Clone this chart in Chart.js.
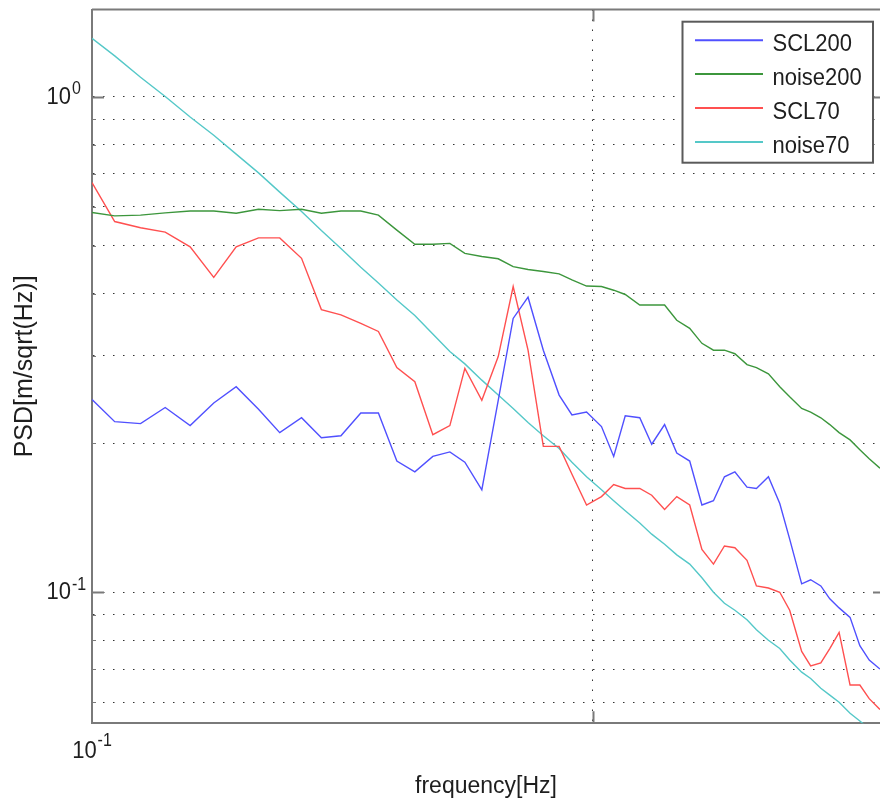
<!DOCTYPE html>
<html>
<head>
<meta charset="utf-8">
<title>PSD</title>
<script src="https://cdn.jsdelivr.net/npm/chart.js@4.4.1/dist/chart.umd.min.js"></script>
<style>
  html, body { margin: 0; padding: 0; background: #fff; }
  #wrap { width: 880px; height: 803px; }
</style>
</head>
<body>
<div id="wrap"><canvas id="psd" width="880" height="803"></canvas></div>
<script>
/* PSD plot — SCL200 / SCL70 against their noise floors, log-log, MATLAB look */

/* ── data ─────────────────────────────────────────────────────── */

const FREQ = [
  0.100, 0.111, 0.125, 0.140, 0.157, 0.175, 0.194, 0.215, 0.237, 0.262,
  0.287, 0.314, 0.344, 0.373, 0.406, 0.441, 0.479, 0.518, 0.555, 0.600,
  0.647, 0.693, 0.742, 0.796, 0.856, 0.908, 0.971, 1.04, 1.10, 1.16,
  1.24, 1.31, 1.39, 1.47, 1.56, 1.65, 1.74, 1.83, 1.92, 2.03,
  2.12, 2.24, 2.36, 2.47, 2.61, 2.72, 2.85, 2.97, 3.10, 3.26,
  3.41, 3.56, 3.74
];

const SCL200 = [
  0.245, 0.221, 0.219, 0.236, 0.217, 0.241, 0.260, 0.234, 0.210, 0.225,
  0.205, 0.207, 0.230, 0.230, 0.184, 0.175, 0.188, 0.192, 0.183, 0.161,
  0.244, 0.357, 0.394, 0.308, 0.250, 0.228, 0.231, 0.216, 0.188, 0.227,
  0.225, 0.199, 0.218, 0.191, 0.184, 0.150, 0.153, 0.171, 0.175, 0.163,
  0.162, 0.171, 0.151, 0.128, 0.104, 0.106, 0.103, 0.097, 0.093, 0.089,
  0.078, 0.073, 0.070
];

const NOISE200 = [
  0.584, 0.575, 0.577, 0.583, 0.588, 0.588, 0.582, 0.593, 0.589, 0.593,
  0.582, 0.588, 0.588, 0.577, 0.538, 0.504, 0.504, 0.506, 0.483, 0.476,
  0.471, 0.454, 0.448, 0.444, 0.439, 0.427, 0.415, 0.414, 0.407, 0.399,
  0.380, 0.380, 0.380, 0.354, 0.341, 0.318, 0.308, 0.308, 0.303, 0.288,
  0.284, 0.276, 0.260, 0.248, 0.235, 0.231, 0.225, 0.218, 0.210, 0.203,
  0.194, 0.186, 0.178
];

const SCL70 = [
  0.671, 0.560, 0.544, 0.533, 0.498, 0.432, 0.498, 0.519, 0.519, 0.472,
  0.372, 0.363, 0.349, 0.336, 0.284, 0.266, 0.208, 0.217, 0.283, 0.244,
  0.299, 0.414, 0.308, 0.197, 0.197, 0.173, 0.150, 0.156, 0.165, 0.162,
  0.162, 0.157, 0.147, 0.156, 0.150, 0.122, 0.114, 0.124, 0.123, 0.116,
  0.103, 0.102, 0.100, 0.092, 0.076, 0.071, 0.072, 0.077, 0.083, 0.065,
  0.065, 0.061, 0.058
];

const NOISE70 = [
  1.312, 1.209, 1.095, 1.001, 0.910, 0.836, 0.766, 0.702, 0.642, 0.587,
  0.537, 0.494, 0.453, 0.421, 0.389, 0.362, 0.332, 0.306, 0.289, 0.268,
  0.250, 0.235, 0.220, 0.207, 0.195, 0.183, 0.171, 0.161, 0.153, 0.146,
  0.138, 0.131, 0.125, 0.119, 0.114, 0.107, 0.100, 0.095, 0.092, 0.088,
  0.084, 0.080, 0.077, 0.073, 0.069, 0.067, 0.064, 0.062, 0.060, 0.057,
  0.055, 0.053, 0.050
];

const SERIES_LABELS = ['SCL200', 'noise200', 'SCL70', 'noise70'];

const X_TICKS = [0.1, 1];
const Y_TICKS = [0.06, 0.07, 0.08, 0.09, 0.1, 0.2, 0.3, 0.4, 0.5, 0.6, 0.7, 0.8, 0.9, 1];
const X_EXPONENTS = { '0.1': '-1' };
const Y_EXPONENTS = { '0.1': '-1', '1': '0' };

/* ── styling ──────────────────────────────────────────────────── */

const FONT = "'Liberation Sans', Arial, sans-serif";
const AXIS_GREY = '#7a7a7a';
const TEXT = '#1e1e1e';
const COLORS = ['#5050ff', '#3c963c', '#ff5050', '#55c8c8'];
const TEXT_STRETCH = 1.12; // the figure's text is a bit taller than wide

function isMajor(v) {
  return Math.abs(Math.log10(v) - Math.round(Math.log10(v))) < 1e-6;
}

function tallText(ctx, str, x, y) {
  ctx.save();
  ctx.translate(x, y);
  ctx.scale(1, TEXT_STRETCH);
  ctx.fillText(str, 0, 0);
  ctx.restore();
}

/* draws "10" with a raised exponent; anchor 'right' puts the base's right edge at x */
function drawPow(ctx, exp, x, y, anchor) {
  ctx.font = '22px ' + FONT;
  const bw = ctx.measureText('10').width;
  ctx.font = '16px ' + FONT;
  const ew = ctx.measureText(exp).width;
  const bx = anchor === 'right' ? x - bw : x - (bw + ew + 1) / 2;
  ctx.fillStyle = TEXT;
  ctx.textAlign = 'left';
  ctx.textBaseline = 'middle';
  ctx.font = '22px ' + FONT;
  tallText(ctx, '10', bx, y);
  ctx.font = '16px ' + FONT;
  tallText(ctx, exp, bx + bw + 1, y - (anchor === 'right' ? 7.5 : 10.5));
}

/* ── frame, inner ticks, tick labels and boxed legend ─────────── */

const matlabFrame = {
  id: 'matlabFrame',
  afterDraw(chart) {
    const { ctx, chartArea: a, scales: { x, y } } = chart;
    ctx.save();

    // top edge of the box
    ctx.strokeStyle = AXIS_GREY;
    ctx.lineWidth = 2;
    ctx.beginPath();
    ctx.moveTo(a.left, a.top);
    ctx.lineTo(a.right, a.top);
    ctx.stroke();

    // inward ticks on the left axis (right axis sits just past the edge)
    Y_TICKS.forEach(v => {
      const py = Math.round(y.getPixelForValue(v)) + 0.5;
      const major = isMajor(v);
      ctx.lineWidth = major ? 2 : 1;
      ctx.beginPath();
      ctx.moveTo(a.left, py);
      ctx.lineTo(a.left + (major ? 12 : 4), py);
      if (major) {
        ctx.moveTo(a.right, py);
        ctx.lineTo(a.right - 7, py);
      }
      ctx.stroke();
    });

    // inward ticks top/bottom at x = 1
    const px1 = Math.round(x.getPixelForValue(1)) + 0.5;
    ctx.lineWidth = 2;
    ctx.beginPath();
    ctx.moveTo(px1, a.bottom); ctx.lineTo(px1, a.bottom - 12);
    ctx.moveTo(px1, a.top); ctx.lineTo(px1, a.top + 12);
    ctx.stroke();

    // tick labels 10^n
    Object.keys(Y_EXPONENTS).forEach(k => {
      drawPow(ctx, Y_EXPONENTS[k], a.left - 21, y.getPixelForValue(+k), 'right');
    });
    Object.keys(X_EXPONENTS).forEach(k => {
      drawPow(ctx, X_EXPONENTS[k], x.getPixelForValue(+k), a.bottom + 28, 'center');
    });

    // legend box, upper right
    const bx = a.right - 197.5, by = a.top + 12.2, bw = 190.5, bh = 141;
    ctx.fillStyle = '#fff';
    ctx.fillRect(bx, by, bw, bh);
    ctx.strokeStyle = '#5a5a5a';
    ctx.lineWidth = 2;
    ctx.strokeRect(bx, by, bw, bh);

    chart.data.datasets.forEach((ds, i) => {
      const ry = by + 18.5 + i * 33.9;
      ctx.strokeStyle = ds.borderColor;
      ctx.lineWidth = 2;
      ctx.beginPath();
      ctx.moveTo(bx + 12.5, ry);
      ctx.lineTo(bx + 80.5, ry);
      ctx.stroke();
      ctx.fillStyle = TEXT;
      ctx.font = '22px ' + FONT;
      ctx.textAlign = 'left';
      ctx.textBaseline = 'middle';
      tallText(ctx, ds.label, bx + 90, ry + 4);
    });

    ctx.restore();
  }
};

/* ── chart ────────────────────────────────────────────────────── */

const seriesValues = [SCL200, NOISE200, SCL70, NOISE70];

new Chart(document.getElementById('psd'), {
  type: 'line',
  data: {
    datasets: seriesValues.map((vals, i) => ({
      label: SERIES_LABELS[i],
      data: vals.map((v, j) => ({ x: FREQ[j], y: v })),
      borderColor: COLORS[i],
      borderWidth: 1.4,
      pointRadius: 0,
      tension: 0,
      fill: false,
    })),
  },
  options: {
    responsive: false,
    animation: false,
    layout: { padding: { top: 9.5, right: 0, bottom: 0, left: 0 } },
    plugins: {
      legend: { display: false },
      tooltip: { enabled: false },
    },
    scales: {
      x: {
        type: 'logarithmic',
        min: 0.1,
        max: 3.741,
        afterBuildTicks: s => { s.ticks = X_TICKS.map(v => ({ value: v })); },
        afterFit: s => { s.height = 79.7; },
        ticks: { display: false },
        grid: { color: '#333', lineWidth: 1, drawTicks: false },
        border: { display: true, color: AXIS_GREY, width: 2, dash: [1.5, 8.5] },
        title: {
          display: true,
          text: 'frequency[Hz]',
          color: TEXT,
          font: { family: FONT, size: 23 },
          padding: { top: 0, bottom: 3 },
        },
      },
      y: {
        type: 'logarithmic',
        min: 0.0544,
        max: 1.5,
        afterBuildTicks: s => { s.ticks = Y_TICKS.map(v => ({ value: v })); },
        afterFit: s => { s.width = 92; },
        ticks: { display: false },
        grid: { color: '#333', lineWidth: 1, drawTicks: false },
        border: { display: true, color: AXIS_GREY, width: 2, dash: [1.5, 8.5] },
        title: {
          display: true,
          text: 'PSD[m/sqrt(Hz)]',
          color: TEXT,
          font: { family: FONT, size: 25 },
          padding: { top: 10, bottom: 0 },
        },
      },
    },
  },
  plugins: [matlabFrame],
});
</script>
</body>
</html>
